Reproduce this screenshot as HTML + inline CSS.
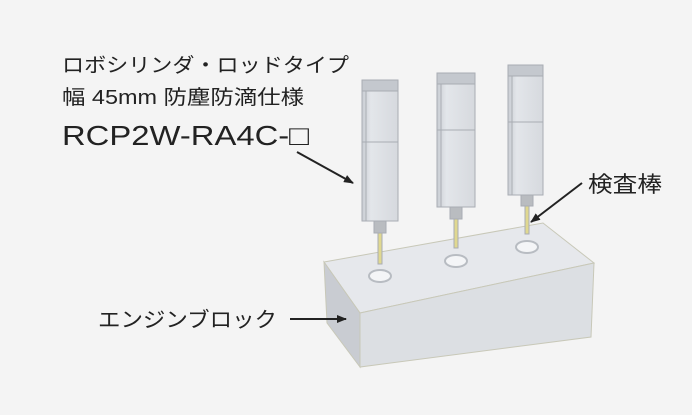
<!DOCTYPE html>
<html><head><meta charset="utf-8"><style>
html,body{margin:0;padding:0;background:#f4f4f4;}
svg{display:block;}
text{font-family:"Liberation Sans","Noto Sans CJK JP",sans-serif;fill:#222;}
</style></head><body>
<svg width="692" height="415" viewBox="0 0 692 415" xmlns="http://www.w3.org/2000/svg">
<defs>
<marker id="ah" markerWidth="10" markerHeight="8" refX="9" refY="4" orient="auto" markerUnits="userSpaceOnUse">
<path d="M0,0 L10,4 L0,8 Z" fill="#222"/></marker>
<linearGradient id="cyl" x1="0" x2="1"><stop offset="0" stop-color="#c9cdd3"/><stop offset="0.25" stop-color="#e3e6ea"/><stop offset="1" stop-color="#d6d9de"/></linearGradient>
</defs>
<rect width="692" height="415" fill="#f4f4f4"/>
<!-- text -->
<text x="62" y="72" font-size="20" textLength="287" lengthAdjust="spacingAndGlyphs">ロボシリンダ・ロッドタイプ</text>
<text x="62" y="104" font-size="20" textLength="242" lengthAdjust="spacingAndGlyphs">幅 45mm 防塵防滴仕様</text>
<text x="62" y="145" font-size="28" textLength="247" lengthAdjust="spacingAndGlyphs">RCP2W-RA4C-□</text>
<text x="98" y="327" font-size="21" textLength="179" lengthAdjust="spacingAndGlyphs">エンジンブロック</text>
<text x="588" y="192" font-size="22" textLength="74" lengthAdjust="spacingAndGlyphs">検査棒</text>
<!-- block -->
<polygon points="324,262 543,223 594,263 360,313" fill="#e6e8ec" stroke="#c8c8b8" stroke-width="1"/>
<polygon points="324,262 360,313 360,367 327,323" fill="#c9ccd2" stroke="#c8c8b8" stroke-width="1"/>
<polygon points="360,313 594,263 591,337 360,367" fill="#dcdfe3" stroke="#c8c8b8" stroke-width="1"/>
<!-- holes -->
<g fill="#f4f5f7" stroke="#b8bcc2" stroke-width="2">
<ellipse cx="380" cy="276" rx="11" ry="6"/>
<ellipse cx="456" cy="261" rx="11" ry="6"/>
<ellipse cx="527" cy="247" rx="11" ry="6"/>
</g>
<!-- cylinders -->
<g stroke="#a9adb3" stroke-width="1">
<rect x="378" y="232" width="4" height="32" fill="#e0d890"/>
<rect x="374" y="220" width="12" height="13" fill="#b9bcc0"/>
<rect x="362" y="80" width="36" height="141" fill="url(#cyl)"/>
<rect x="362" y="80" width="36" height="11" fill="#c4c8ce"/>
<line x1="362" y1="142" x2="398" y2="142"/>
<line x1="366" y1="91" x2="366" y2="221"/>
<rect x="454" y="218" width="4" height="30" fill="#e0d890"/>
<rect x="450" y="206" width="12" height="13" fill="#b9bcc0"/>
<rect x="437" y="73" width="38" height="134" fill="url(#cyl)"/>
<rect x="437" y="73" width="38" height="11" fill="#c4c8ce"/>
<line x1="437" y1="130" x2="475" y2="130"/>
<line x1="441" y1="84" x2="441" y2="207"/>
<rect x="525" y="204" width="4" height="30" fill="#e0d890"/>
<rect x="521" y="194" width="12" height="12" fill="#b9bcc0"/>
<rect x="508" y="65" width="35" height="130" fill="url(#cyl)"/>
<rect x="508" y="65" width="35" height="11" fill="#c4c8ce"/>
<line x1="508" y1="122" x2="543" y2="122"/>
<line x1="512" y1="76" x2="512" y2="195"/>
</g>
<!-- arrows -->
<g stroke="#222" stroke-width="2" fill="none">
<line x1="297" y1="152" x2="353" y2="183" marker-end="url(#ah)"/>
<line x1="582" y1="183" x2="531" y2="222" marker-end="url(#ah)"/>
<line x1="290" y1="319" x2="346" y2="319" marker-end="url(#ah)"/>
</g>
</svg>
</body></html>
